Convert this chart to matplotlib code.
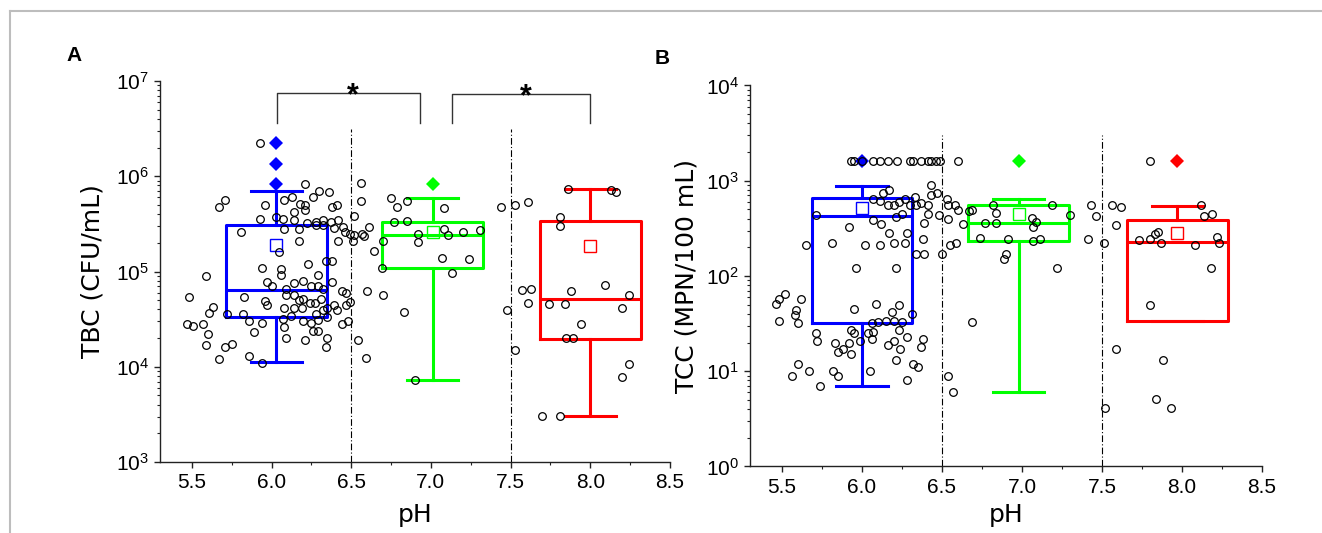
import matplotlib
matplotlib.use('Agg')
import matplotlib.pyplot as plt
from matplotlib.lines import Line2D
from matplotlib.ticker import MultipleLocator, FormatStrFormatter

plt.rcParams['font.family'] = ['Liberation Sans', 'DejaVu Sans']
plt.rcParams['mathtext.default'] = 'regular'

# cores dos grupos de pH 6, 7 e 8
box_colors = ['#0000ff', '#00ff00', '#ff0000']

# ---- painel A: TBC (CFU/mL) ----
tbc_points = [
    (5.93, 2.26e6), (6.21, 8.2e5), (6.56, 8.4e5), (5.71, 5.7e5), (5.67, 4.8e5),
    (5.96, 5.0e5), (6.08, 5.6e5), (6.13, 6.1e5), (6.18, 5.1e5), (6.21, 5.0e5),
    (6.26, 6.0e5), (6.30, 7.0e5), (6.36, 6.8e5), (6.38, 4.8e5), (6.41, 5.0e5),
    (6.56, 5.5e5), (5.93, 3.6e5), (6.03, 3.7e5), (6.07, 3.6e5), (6.14, 4.2e5),
    (6.21, 4.4e5), (6.14, 3.45e5), (6.28, 3.3e5), (6.32, 3.45e5), (6.37, 3.3e5),
    (6.42, 3.5e5), (6.52, 3.8e5), (5.81, 2.6e5), (6.08, 2.8e5), (6.17, 2.8e5),
    (6.22, 3.2e5), (6.28, 3.06e5), (6.32, 3.1e5), (6.39, 2.85e5), (6.45, 2.9e5),
    (6.49, 2.5e5), (6.46, 2.6e5), (6.52, 2.4e5), (6.57, 2.5e5), (6.61, 2.9e5),
    (6.58, 2.35e5), (6.51, 2.1e5), (6.17, 2.1e5), (6.42, 2.1e5), (6.05, 1.6e5),
    (6.34, 1.3e5), (6.38, 1.28e5), (6.64, 1.66e5), (6.23, 1.2e5), (5.94, 1.1e5),
    (6.06, 1.07e5), (6.06, 9.1e4), (6.29, 9.1e4), (5.59, 8.9e4), (5.97, 7.7e4),
    (6.00, 7.1e4), (6.09, 6.5e4), (6.14, 7.5e4), (6.20, 7.9e4), (6.25, 7.1e4),
    (6.29, 7.1e4), (6.38, 7.8e4), (6.32, 6.5e4), (6.44, 6.2e4), (6.47, 5.9e4),
    (6.49, 4.8e4), (6.60, 6.2e4), (6.70, 5.6e4), (5.48, 5.4e4), (5.83, 5.4e4),
    (5.96, 4.9e4), (5.97, 4.4e4), (6.09, 5.7e4), (6.14, 5.7e4), (6.17, 5.0e4),
    (6.20, 5.2e4), (6.24, 4.7e4), (6.27, 4.7e4), (6.31, 5.2e4), (6.35, 4.1e4),
    (6.39, 4.5e4), (5.63, 4.2e4), (5.61, 3.7e4), (5.72, 3.6e4), (5.82, 3.6e4),
    (6.08, 4.1e4), (6.14, 4.1e4), (6.19, 4.1e4), (6.28, 3.6e4), (6.32, 3.9e4),
    (6.41, 3.9e4), (6.47, 4.4e4), (6.83, 3.8e4), (5.86, 3.0e4), (5.94, 2.9e4),
    (6.07, 3.2e4), (6.12, 3.4e4), (6.20, 3.0e4), (6.25, 2.9e4), (6.29, 3.1e4),
    (6.35, 3.3e4), (6.44, 2.8e4), (6.48, 3.0e4), (5.47, 2.8e4), (5.51, 2.7e4),
    (5.57, 2.8e4), (5.60, 2.2e4), (5.89, 2.3e4), (6.08, 2.6e4), (6.26, 2.4e4),
    (6.29, 2.4e4), (6.35, 2.0e4), (6.54, 1.9e4), (5.59, 1.7e4), (5.71, 1.6e4),
    (5.75, 1.74e4), (5.86, 1.3e4), (5.94, 1.1e4), (5.67, 1.2e4), (6.09, 2.0e4),
    (6.21, 1.9e4), (6.34, 1.6e4), (6.59, 1.24e4), (6.90, 7.3e3),
    (6.75, 5.9e5), (6.79, 4.8e5), (6.85, 5.5e5), (6.77, 3.3e5), (6.85, 3.4e5),
    (6.92, 2.5e5), (6.92, 2.05e5), (7.08, 4.6e5), (7.08, 2.8e5), (7.11, 2.4e5),
    (7.20, 2.6e5), (7.31, 2.7e5), (6.70, 2.1e5), (7.07, 1.4e5), (7.24, 1.34e5),
    (7.13, 9.7e4), (6.69, 1.1e5),
    (7.53, 5.0e5), (7.44, 4.8e5), (7.61, 5.4e5), (7.86, 7.4e5), (8.13, 7.25e5),
    (8.16, 6.85e5), (7.81, 3.7e5), (7.81, 3.0e5), (7.57, 6.4e4), (7.63, 6.5e4),
    (7.61, 4.7e4), (7.88, 6.2e4), (8.09, 7.2e4), (8.24, 5.6e4), (7.74, 4.6e4),
    (7.84, 4.6e4), (8.20, 4.1e4), (7.48, 3.9e4), (7.94, 2.8e4), (7.85, 2.0e4),
    (7.89, 2.0e4), (7.53, 1.5e4), (8.24, 1.06e4), (8.20, 7.8e3), (7.70, 3.05e3),
    (7.81, 3.05e3),
]
tbc_box_pos = [6.03, 7.01, 8.0]
tbc_whislo = [1.11e4, 7.2e3, 3.03e3]
tbc_q1 = [3.34e4, 1.1e5, 1.95e4]
tbc_med = [6.4e4, 2.44e5, 5.1e4]
tbc_q3 = [3.06e5, 3.3e5, 3.4e5]
tbc_whishi = [6.97e5, 5.97e5, 7.3e5]
tbc_mean = [1.89e5, 2.6e5, 1.86e5]
tbc_fliers = [[8.2e5, 1.36e6, 2.24e6], [8.2e5], []]

# ---- painel B: TCC (MPN/100 mL) ----
tcc_points = [
    (5.93, 1600), (5.95, 1600), (6.00, 1600), (6.07, 1600), (6.11, 1600),
    (6.16, 1600), (6.22, 1600), (6.30, 1600), (6.32, 1600), (6.37, 1600),
    (6.41, 1600), (6.43, 1600), (6.46, 1600), (6.49, 1600), (6.60, 1600),
    (7.80, 1600),
    (6.43, 900), (6.17, 800), (6.13, 740), (6.07, 650), (6.11, 610),
    (6.16, 555), (6.20, 555), (6.23, 600), (6.27, 650), (6.33, 680),
    (6.30, 555), (6.34, 555), (6.37, 580), (6.41, 555), (6.43, 710),
    (6.47, 740), (6.53, 640), (6.54, 555), (6.58, 555), (6.60, 490),
    (6.41, 450), (6.48, 435), (6.54, 400), (6.63, 355), (6.69, 490),
    (5.71, 435), (6.07, 390), (6.12, 355), (6.25, 445), (6.21, 420),
    (5.92, 323), (6.17, 286), (6.28, 286), (6.38, 243), (6.39, 356),
    (5.65, 214), (5.81, 223), (6.02, 214), (6.11, 214), (6.20, 223),
    (6.27, 223), (6.55, 210), (6.59, 223), (6.34, 172), (6.39, 172),
    (6.50, 172), (5.96, 122), (6.21, 122),
    (5.46, 51), (5.48, 58), (5.52, 65), (5.62, 57), (5.59, 44),
    (5.58, 39), (5.60, 32), (5.48, 34), (5.95, 45), (6.09, 51),
    (6.19, 42), (6.23, 50), (6.31, 40), (6.06, 32), (6.10, 33),
    (6.15, 34), (6.20, 34), (6.25, 33), (6.69, 33), (5.71, 25),
    (5.72, 21), (5.93, 27), (5.95, 25), (5.99, 21), (6.04, 25),
    (6.06, 22), (6.07, 26), (6.16, 19), (6.20, 21), (6.23, 27),
    (6.28, 23), (6.38, 22), (6.37, 18), (5.83, 20), (5.92, 20),
    (5.85, 16), (5.88, 17), (5.93, 15), (6.24, 17), (6.21, 13),
    (6.32, 12), (6.35, 11), (5.60, 12), (5.67, 10), (5.56, 9),
    (5.82, 10), (5.85, 9), (6.05, 10), (6.28, 8), (5.74, 7),
    (6.54, 9), (6.57, 6),
    (6.82, 555), (6.84, 460), (6.77, 361), (6.84, 356), (6.74, 251),
    (6.91, 247), (6.90, 172), (6.89, 152), (7.06, 411), (7.07, 323),
    (7.09, 370), (7.07, 232), (7.11, 243), (7.19, 555), (7.22, 122),
    (6.67, 484), (7.30, 435), (7.43, 555), (7.46, 425), (7.41, 243),
    (7.56, 555), (7.62, 525), (7.59, 347), (7.51, 223),
    (7.73, 238), (7.80, 247), (7.83, 279), (7.85, 291), (7.87, 223),
    (8.08, 210), (8.12, 555), (8.14, 425), (8.19, 446), (8.22, 258),
    (8.23, 223), (8.18, 122), (7.80, 50), (7.59, 17), (7.88, 13),
    (7.84, 5.1), (7.93, 4.1), (7.52, 4.1),
]
tcc_box_pos = [6.0, 6.98, 7.97]
tcc_whislo = [7.08, 6.1, 33.4]
tcc_q1 = [32.3, 232, 33.4]
tcc_med = [428, 361, 228]
tcc_q3 = [653, 555, 386]
tcc_whishi = [886, 637, 546]
tcc_mean = [520, 443, 284]
tcc_fliers = [[1600], [1600], [1600]]

label_font = ['DejaVu Sans']


def painel(ax, points, pos, whislo, q1, med, q3, whishi, mean, fliers, ylim, ylabel, div_top):
    stats = []
    for i in range(3):
        stats.append(dict(whislo=whislo[i], q1=q1[i], med=med[i], q3=q3[i],
                          whishi=whishi[i], mean=mean[i], fliers=fliers[i]))
    bp = ax.bxp(stats, positions=pos, widths=0.63, capwidths=0.32, showmeans=True,
                manage_ticks=False,
                boxprops=dict(lw=2.2), whiskerprops=dict(lw=2.2), capprops=dict(lw=2.2),
                medianprops=dict(lw=2.2),
                meanprops=dict(marker='s', markerfacecolor='none', markersize=8, markeredgewidth=1),
                flierprops=dict(marker='D', markersize=7.5, markeredgewidth=0))
    for i, c in enumerate(box_colors):
        bp['boxes'][i].set_color(c)
        bp['medians'][i].set_color(c)
        for k in (2 * i, 2 * i + 1):
            bp['whiskers'][k].set_color(c)
            bp['caps'][k].set_color(c)
        bp['means'][i].set_markeredgecolor(c)
        bp['fliers'][i].set_markerfacecolor(c)
        bp['fliers'][i].set_markeredgecolor(c)

    xs = [p[0] for p in points]
    ys = [p[1] for p in points]
    ax.plot(xs, ys, 'o', mfc='none', mec='black', ms=5.5, mew=0.9, zorder=4)

    ax.vlines([6.5, 7.5], ylim[0], div_top, colors='black', lw=0.8,
              linestyles=[(0, (6, 2, 1, 2))])

    ax.set_yscale('log')
    ax.set_ylim(ylim)
    ax.set_xlim(5.3, 8.5)
    ax.xaxis.set_major_locator(MultipleLocator(0.5))
    ax.xaxis.set_minor_locator(MultipleLocator(0.25))
    ax.xaxis.set_major_formatter(FormatStrFormatter('%.1f'))
    ax.spines['top'].set_visible(False)
    ax.spines['right'].set_visible(False)
    for s in ('left', 'bottom'):
        ax.spines[s].set_linewidth(1.0)
        ax.spines[s].set_color('#222222')
    ax.tick_params(which='major', direction='out', length=4.5, width=1, labelsize=15, color='#222222')
    ax.tick_params(which='minor', direction='out', length=2.5, width=0.8, color='#222222')
    ax.set_xlabel('pH', fontsize=18, family=label_font)
    ax.set_ylabel(ylabel, fontsize=18, family=label_font)


fig = plt.figure(figsize=(13.22, 5.33), dpi=100)
axA = fig.add_axes([0.121, 0.1332, 0.3858, 0.7148])
axB = fig.add_axes([0.5673, 0.1248, 0.3873, 0.7148])

painel(axA, tbc_points, tbc_box_pos, tbc_whislo, tbc_q1, tbc_med, tbc_q3, tbc_whishi,
       tbc_mean, tbc_fliers, (1e3, 1e7), 'TBC (CFU/mL)', 3.1e6)
painel(axB, tcc_points, tcc_box_pos, tcc_whislo, tcc_q1, tcc_med, tcc_q3, tcc_whishi,
       tcc_mean, tcc_fliers, (1, 1e4), 'TCC (MPN/100 mL)', 3000)
axA.yaxis.set_label_coords(-0.108, 0.5)
axB.yaxis.set_label_coords(-0.10, 0.5)
axA.xaxis.set_label_coords(0.5, -0.108)
axB.xaxis.set_label_coords(0.5, -0.095)

# comparações significativas
for x0, x1, top in [(6.035, 6.93, 7.4e6), (7.13, 8.0, 7.25e6)]:
    axA.plot([x0, x0, x1, x1], [3.65e6, top, top, 3.65e6], color='#333333', lw=1.0, clip_on=False)
    axA.text((x0 + x1) / 2 + 0.028, top / 1.07, '*', ha='center', va='center',
             fontsize=22, fontweight='bold')

fig.text(0.0560, 0.895, 'A', fontsize=15, fontweight='bold', ha='center', va='center')
fig.text(0.5010, 0.891, 'B', fontsize=15, fontweight='bold', ha='center', va='center')

# moldura cinza
fig.add_artist(Line2D([10 / 1322, 1], [1 - 11 / 533] * 2, color='#bdbdbd', lw=1.5))
fig.add_artist(Line2D([10 / 1322] * 2, [0, 1 - 11 / 533], color='#bdbdbd', lw=1.5))

fig.savefig('out.png', dpi=100)
